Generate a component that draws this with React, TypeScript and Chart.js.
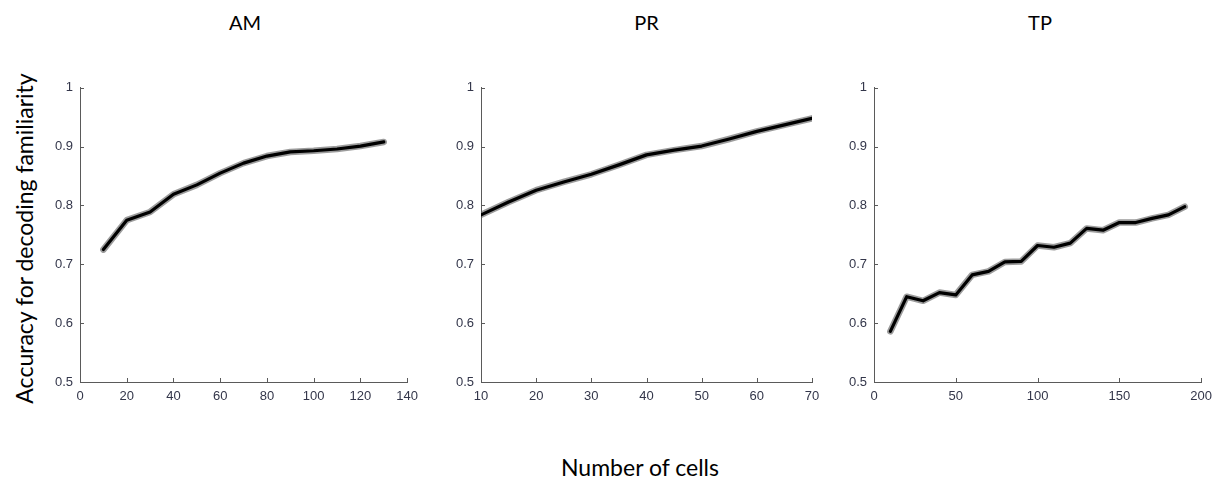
import React, { useEffect, useRef } from "react";
import { Chart, registerables } from "chart.js";

Chart.register(...registerables);

// ---- Data ----
const AM_X = [10, 20, 30, 40, 50, 60, 70, 80, 90, 100, 110, 120, 130];
const AM_Y = [0.725, 0.775, 0.789, 0.819, 0.835, 0.855, 0.872, 0.884, 0.891, 0.893, 0.896, 0.901, 0.908];

const PR_X = [10, 15, 20, 25, 30, 35, 40, 45, 50, 55, 60, 65, 70];
const PR_Y = [0.784, 0.806, 0.826, 0.840, 0.853, 0.869, 0.886, 0.894, 0.901, 0.913, 0.926, 0.937, 0.948];

const TP_X = [10, 20, 30, 40, 50, 60, 70, 80, 90, 100, 110, 120, 130, 140, 150, 160, 170, 180, 190];
const TP_Y = [0.586, 0.645, 0.638, 0.652, 0.648, 0.682, 0.688, 0.704, 0.705, 0.732, 0.729, 0.736, 0.761, 0.758, 0.771, 0.771, 0.778, 0.784, 0.798];

const TITLES = ["AM", "PR", "TP"];
const X_LABEL = "Number of cells";
const Y_LABEL = "Accuracy for decoding familiarity";

const Y_MIN = 0.5;
const Y_MAX = 1;
const Y_STEP = 0.1;

type PanelSpec = {
  title: string;
  xs: number[];
  ys: number[];
  xMin: number;
  xMax: number;
  xStep: number;
  plotLeft: number;
  plotWidth: number;
  rightPad: number;
};

const PANELS: PanelSpec[] = [
  { title: TITLES[0], xs: AM_X, ys: AM_Y, xMin: 0, xMax: 140, xStep: 20, plotLeft: 80, plotWidth: 330, rightPad: 15 },
  { title: TITLES[1], xs: PR_X, ys: PR_Y, xMin: 10, xMax: 70, xStep: 10, plotLeft: 481, plotWidth: 331, rightPad: 15 },
  { title: TITLES[2], xs: TP_X, ys: TP_Y, xMin: 0, xMax: 200, xStep: 50, plotLeft: 874, plotWidth: 332, rightPad: 13 },
];

const PLOT_TOP = 83;
const PLOT_HEIGHT = 299;
const TOP_PAD = 10;
const Y_AXIS_W = 30;
const X_AXIS_H = 25;

const AXIS_COLOR = "#5a5a5a";
const TICK_COLOR = "#33364a";
const TEXT_FONT = "Lato, 'Open Sans', sans-serif";
const TICK_FONT = "'Liberation Sans', Arial, sans-serif";

const innerTicks = {
  id: "innerTicks",
  afterDraw(chart: any) {
    const { ctx, chartArea } = chart;
    const xs = chart.scales.x;
    const ys = chart.scales.y;
    ctx.save();
    ctx.strokeStyle = AXIS_COLOR;
    ctx.lineWidth = 1;
    ctx.beginPath();
    xs.ticks.forEach((t: any) => {
      const px = Math.round(xs.getPixelForValue(t.value)) + 0.5;
      ctx.moveTo(px, chartArea.bottom);
      ctx.lineTo(px, chartArea.bottom - 4);
    });
    ys.ticks.forEach((t: any) => {
      const py = Math.round(ys.getPixelForValue(t.value)) + 0.5;
      ctx.moveTo(chartArea.left, py);
      ctx.lineTo(chartArea.left + 4, py);
    });
    ctx.stroke();
    ctx.restore();
  },
};

function Panel({ spec }: { spec: PanelSpec }) {
  const ref = useRef<HTMLCanvasElement | null>(null);
  const canvasLeft = spec.plotLeft - Y_AXIS_W;
  const canvasWidth = Y_AXIS_W + spec.plotWidth + spec.rightPad;
  const canvasTop = PLOT_TOP - TOP_PAD;
  const canvasHeight = TOP_PAD + PLOT_HEIGHT + X_AXIS_H;

  useEffect(() => {
    if (!ref.current) return;
    const pts = spec.xs.map((x, i) => ({ x, y: spec.ys[i] }));
    const chart = new Chart(ref.current, {
      type: "line",
      data: {
        datasets: [
          {
            // mean line (drawn on top)
            data: pts,
            borderColor: "#000000",
            borderWidth: 3.2,
            pointRadius: 0,
            tension: 0,
            borderJoinStyle: "round",
            borderCapStyle: "round",
            order: 0,
          },
          {
            // shaded error halo
            data: pts,
            borderColor: "rgba(90,90,90,0.6)",
            borderWidth: 6.5,
            pointRadius: 0,
            tension: 0,
            borderJoinStyle: "round",
            borderCapStyle: "round",
            order: 1,
          },
        ],
      },
      options: {
        responsive: false,
        animation: false,
        devicePixelRatio: 1,
        layout: { padding: { top: TOP_PAD, right: spec.rightPad, left: 0, bottom: 0 } },
        plugins: { legend: { display: false }, tooltip: { enabled: false }, title: { display: false } },
        scales: {
          x: {
            type: "linear",
            min: spec.xMin,
            max: spec.xMax,
            ticks: {
              stepSize: spec.xStep,
              padding: 7,
              color: TICK_COLOR,
              font: { family: TICK_FONT, size: 13 },
              maxRotation: 0,
              autoSkip: false,
            },
            grid: { display: false, drawTicks: false },
            border: { display: true, color: AXIS_COLOR, width: 1 },
            afterFit: (s: any) => {
              s.height = X_AXIS_H;
            },
          },
          y: {
            type: "linear",
            min: Y_MIN,
            max: Y_MAX,
            ticks: {
              stepSize: Y_STEP,
              padding: 7,
              color: TICK_COLOR,
              font: { family: TICK_FONT, size: 13 },
              callback: (v: any) => String(Number(Number(v).toFixed(1))),
            },
            grid: { display: false, drawTicks: false },
            border: { display: true, color: AXIS_COLOR, width: 1 },
            afterFit: (s: any) => {
              s.width = Y_AXIS_W;
            },
          },
        },
      },
      plugins: [innerTicks],
    } as any);
    return () => chart.destroy();
  }, [spec]);

  return (
    <>
      <canvas
        ref={ref}
        width={canvasWidth}
        height={canvasHeight}
        style={{ position: "absolute", left: canvasLeft, top: canvasTop, width: canvasWidth, height: canvasHeight }}
      />
      <div
        style={{
          position: "absolute",
          left: spec.plotLeft,
          width: spec.plotWidth,
          top: 12,
          textAlign: "center",
          fontFamily: TEXT_FONT,
          fontSize: 20,
          lineHeight: "20px",
          color: "#000",
        }}
      >
        {spec.title}
      </div>
    </>
  );
}

export default function App() {
  return (
    <div
      style={{
        position: "fixed",
        left: 0,
        top: 0,
        width: 1219,
        height: 480,
        background: "#fff",
        overflow: "hidden",
      }}
    >
      {PANELS.map((p) => (
        <Panel key={p.title} spec={p} />
      ))}
      <div
        style={{
          position: "absolute",
          left: 440,
          width: 400,
          top: 456,
          textAlign: "center",
          fontFamily: TEXT_FONT,
          fontSize: 23,
          lineHeight: "23px",
          color: "#000",
        }}
      >
        {X_LABEL}
      </div>
      <div
        style={{
          position: "absolute",
          left: -176,
          top: 227,
          width: 400,
          height: 23,
          textAlign: "center",
          fontFamily: TEXT_FONT,
          fontSize: 23,
          lineHeight: "23px",
          color: "#000",
          transform: "rotate(-90deg)",
          transformOrigin: "center center",
          whiteSpace: "nowrap",
        }}
      >
        {Y_LABEL}
      </div>
    </div>
  );
}
